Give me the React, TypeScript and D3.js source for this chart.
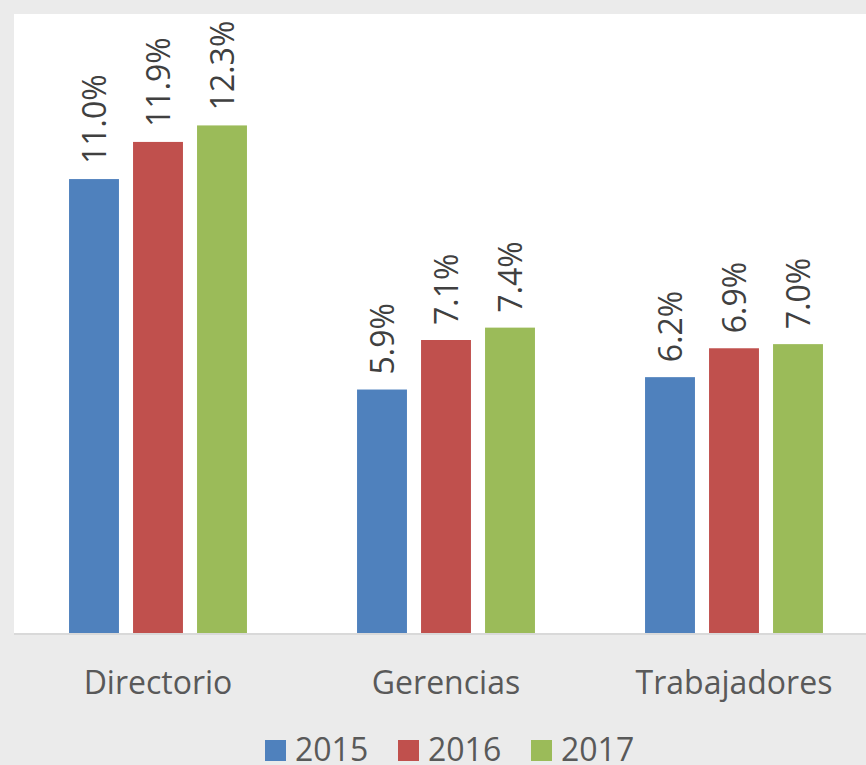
import { useEffect, useRef } from 'react';
import * as d3 from 'd3';

const CATEGORIES = ['Directorio', 'Gerencias', 'Trabajadores'];
const YEARS = ['2015', '2016', '2017'];
const V2015 = [11.0, 5.9, 6.2];
const V2016 = [11.9, 7.1, 6.9];
const V2017 = [12.3, 7.4, 7.0];
const YEAR_COLORS = ['#4f81bd', '#c0504d', '#9bbb59'];

const WIDTH = 866;
const HEIGHT = 765;
const FONT = '"Open Sans", "Noto Sans", sans-serif';

export default function App() {
  const svgRef = useRef<SVGSVGElement | null>(null);

  useEffect(() => {
    document.body.style.margin = '0';
    if (!svgRef.current) return;

    const svg = d3.select(svgRef.current);
    svg.selectAll('*').remove();

    const series = [V2015, V2016, V2017];
    const plot = { left: 14, top: 14, right: 866, bottom: 633 };

    // background + plot area
    svg.append('rect').attr('width', WIDTH).attr('height', HEIGHT).attr('fill', '#ebebeb');
    svg.append('rect')
      .attr('x', plot.left).attr('y', plot.top)
      .attr('width', plot.right - plot.left).attr('height', plot.bottom - plot.top)
      .attr('fill', '#ffffff');

    const x0 = d3.scaleBand().domain(CATEGORIES).range([14, 878]).padding(0);
    const x1 = d3.scaleBand().domain(YEARS).range([48, 240]).paddingInner(0.22).paddingOuter(0.11);
    const y = d3.scaleLinear().domain([0, 15]).range([plot.bottom, plot.top]);

    const groups = svg.append('g').selectAll('g')
      .data(CATEGORIES)
      .enter().append('g')
      .attr('transform', d => `translate(${x0(d)},0)`);

    YEARS.forEach((yr, si) => {
      groups.append('rect')
        .attr('x', x1(yr)!)
        .attr('y', (_, i) => y(series[si][i]))
        .attr('width', x1.bandwidth())
        .attr('height', (_, i) => y(0) - y(series[si][i]))
        .attr('fill', YEAR_COLORS[si]);

      groups.append('text')
        .attr('transform', (_, i) =>
          `translate(${x1(yr)! + x1.bandwidth() / 2},${y(series[si][i]) - 15}) rotate(-90)`)
        .attr('dy', '0.36em')
        .attr('text-anchor', 'start')
        .attr('font-family', FONT)
        .attr('font-size', 32)
        .attr('fill', '#404040')
        .text((_, i) => `${series[si][i].toFixed(1)}%`);
    });

    // axis line
    svg.append('rect')
      .attr('x', plot.left).attr('y', plot.bottom)
      .attr('width', plot.right - plot.left).attr('height', 2)
      .attr('fill', '#d9d9d9');

    // category labels
    svg.append('g').selectAll('text')
      .data(CATEGORIES)
      .enter().append('text')
      .attr('x', d => x0(d)! + x0.bandwidth() / 2)
      .attr('y', 694)
      .attr('text-anchor', 'middle')
      .attr('font-family', FONT)
      .attr('font-size', 32)
      .attr('fill', '#595959')
      .text(d => d);

    // legend
    const legend = svg.append('g').selectAll('g')
      .data(YEARS)
      .enter().append('g')
      .attr('transform', (_, i) => `translate(${265 + i * 133},0)`);
    legend.append('rect')
      .attr('x', 0).attr('y', 740).attr('width', 21).attr('height', 21)
      .attr('fill', (_, i) => YEAR_COLORS[i]);
    legend.append('text')
      .attr('x', 30).attr('y', 761)
      .attr('font-family', FONT)
      .attr('font-size', 32)
      .attr('fill', '#595959')
      .text(d => d);
  }, []);

  return <svg ref={svgRef} width={WIDTH} height={HEIGHT} style={{ display: 'block' }} />;
}
